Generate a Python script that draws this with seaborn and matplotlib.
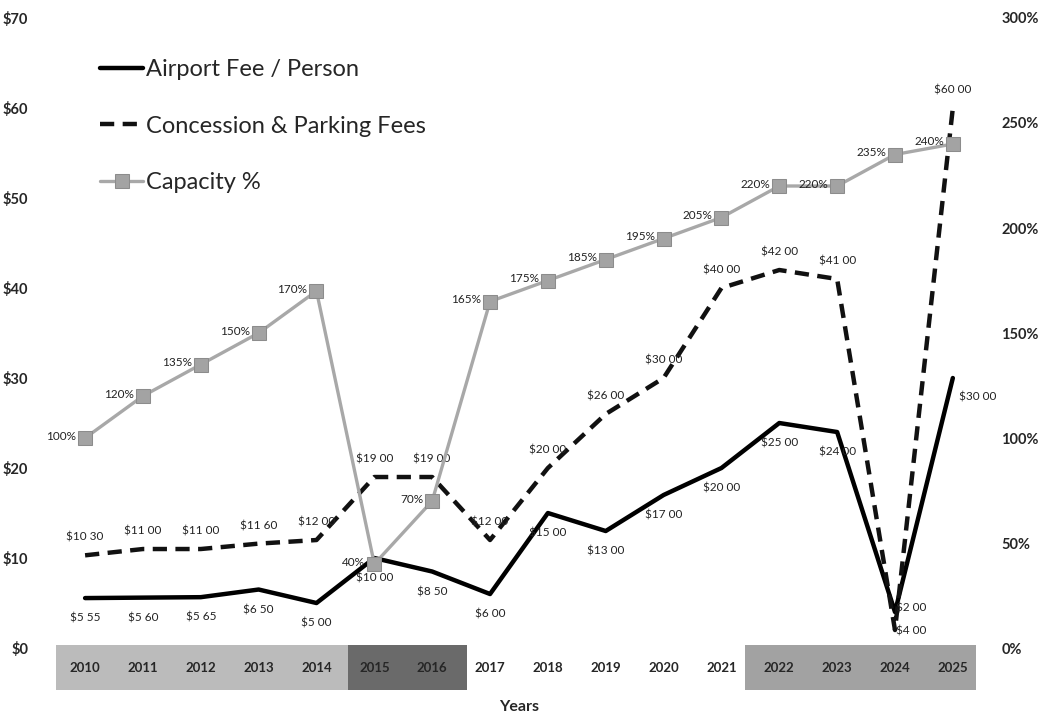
import numpy as np
import matplotlib.pyplot as plt
import matplotlib.transforms as mtransforms
from matplotlib.patches import Rectangle
import seaborn as sns

sns.set_style("white")
plt.rcParams['font.family'] = ['Lato', 'DejaVu Sans']

# Data
years = [2010, 2011, 2012, 2013, 2014, 2015, 2016, 2017,
         2018, 2019, 2020, 2021, 2022, 2023, 2024, 2025]
airport_fee = [5.55, 5.60, 5.65, 6.50, 5.00, 10.00, 8.50, 6.00,
               15.00, 13.00, 17.00, 20.00, 25.00, 24.00, 4.00, 30.00]
concession_fees = [10.30, 11.00, 11.00, 11.60, 12.00, 19.00, 19.00, 12.00,
                   20.00, 26.00, 30.00, 40.00, 42.00, 41.00, 2.00, 60.00]
capacity = [100, 120, 135, 150, 170, 40, 70, 165,
            175, 185, 195, 205, 220, 220, 235, 240]
money_ticks = [0, 10, 20, 30, 40, 50, 60, 70]
pct_ticks = [0, 50, 100, 150, 200, 250, 300]


def money(v):
    return "${:d} {:02d}".format(int(v), int(round(v * 100)) % 100)


fig = plt.figure(figsize=(10.4, 7.14), dpi=100)
ax = fig.add_axes([0.054, 0.0924, 0.890, 0.8824])
ax2 = ax.twinx()

sns.lineplot(x=years, y=airport_fee, ax=ax, color="black", lw=3.2,
             label="Airport Fee / Person", legend=False)
sns.lineplot(x=years, y=concession_fees, ax=ax, color="#111111", lw=3.2,
             label="Concession & Parking Fees", legend=False)
ax.lines[-1].set_dashes((3.2, 1.9))
sns.lineplot(x=years, y=capacity, ax=ax2, color="#a8a8a8", lw=2.4,
             marker="s", markersize=10, markerfacecolor="#a3a3a3",
             markeredgecolor="#8c8c8c", label="Capacity %", legend=False)

ax.set_xlim(2009.5, 2025.5)
ax.set_ylim(0, 70)
ax2.set_ylim(0, 300)
ax.set_xticks(years)
ax.set_xticklabels([str(y) for y in years], fontsize=9.5, fontweight="bold")
ax.set_yticks(money_ticks)
ax.set_yticklabels(["${}".format(t) for t in money_ticks], fontsize=10.5, fontweight="bold")
ax2.set_yticks(pct_ticks)
ax2.set_yticklabels(["{}%".format(t) for t in pct_ticks], fontsize=10.5, fontweight="bold")
ax.tick_params(axis="x", length=0, pad=10)
ax.tick_params(axis="y", length=0, pad=20)
ax2.tick_params(axis="y", length=0, pad=14)
for a in (ax, ax2):
    sns.despine(ax=a, left=True, right=True, top=True, bottom=True)
    a.grid(False)
ax.set_xlabel("Years", fontsize=11.5, fontweight="bold", labelpad=19)

# shaded boxes behind the year labels
trans = mtransforms.blended_transform_factory(ax.transData, fig.transFigure)
for x0, x1, col in [(2009.5, 2014.55, "#b4b4b4"), (2014.55, 2016.6, "#5a5a5a"),
                    (2021.4, 2025.4, "#989898")]:
    ax.add_patch(Rectangle((x0, 0.034), x1 - x0, 0.063, transform=trans,
                           facecolor=col, edgecolor="none", clip_on=False,
                           zorder=0.5, hatch="....", alpha=0.9))

# data labels
lbl = dict(fontsize=8.5, color="#222222", textcoords="offset pixels")
for x, v in zip(years, airport_fee):
    off = (0, -20)
    if x == 2025:
        off = (25, -19)
    elif x == 2024:
        off = (16, -19)
    ax.annotate(money(v), (x, v), xytext=off, ha="center", va="center", **lbl)
for x, v in zip(years, concession_fees):
    off = (0, 18)
    if x == 2024:
        off = (16, 22)
    ax.annotate(money(v), (x, v), xytext=off, ha="center", va="center", **lbl)
for x, v in zip(years, capacity):
    ax2.annotate("{}%".format(v), (x, v), xytext=(-9, 2), ha="right",
                 va="center", **lbl)

h1, l1 = ax.get_legend_handles_labels()
h2, l2 = ax2.get_legend_handles_labels()
ax2.legend(h1 + h2, l1 + l2, loc="upper left", bbox_to_anchor=(0.076, 0.947),
           bbox_transform=fig.transFigure, frameon=False, fontsize=17,
           handlelength=1.8, handletextpad=0.13, labelspacing=1.5)

plt.savefig("out.png", dpi=100)
